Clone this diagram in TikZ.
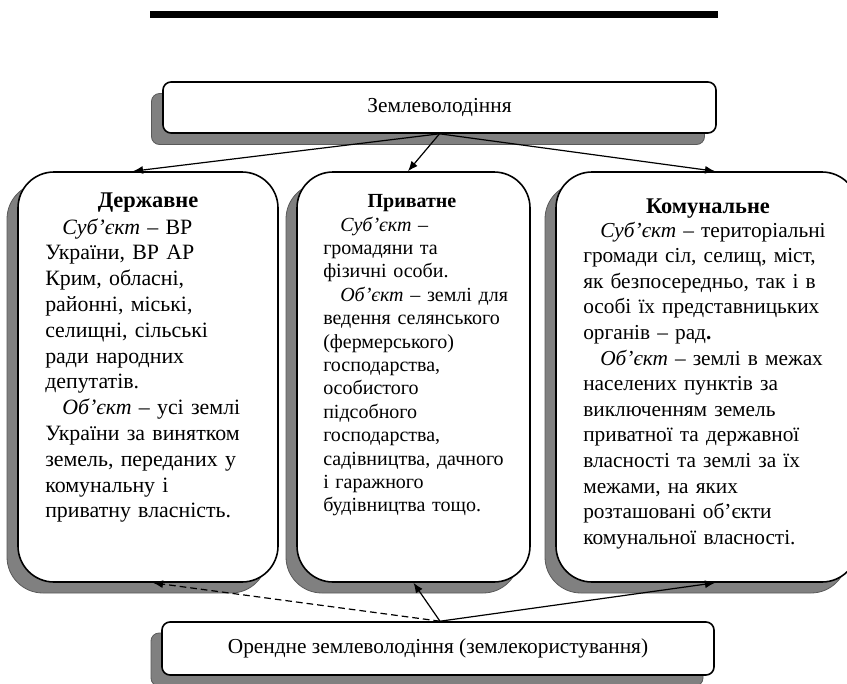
\documentclass[tikz,border=0pt]{standalone}
\usepackage{fontspec}
\setmainfont{Liberation Serif}
\usetikzlibrary{arrows.meta,calc}
\newcommand{\ind}{\hspace*{12.75pt}}
\begin{document}
\begin{tikzpicture}[x=0.75pt,y=-0.75pt,
  shadowbox/.style={fill=black!50, draw=black!65, line width=0.6pt},
  bigbox/.style={draw=black, fill=white, line width=1.2pt, rounded corners=27pt, inner sep=0pt},
  smallbox/.style={draw=black, fill=white, line width=1.2pt, rounded corners=6pt, inner sep=0pt},
  bigshadow/.style={shadowbox, rounded corners=27pt, inner sep=0pt},
  smallshadow/.style={shadowbox, rounded corners=6pt, inner sep=0pt},
  arr/.style={-{Latex[length=7.5pt,width=6pt]}, line width=0.9pt},
  bigtext/.style={font=\fontsize{16.4}{19.35}\selectfont, align=left, text width=#1, inner sep=0pt, anchor=base west},
  rtext/.style={font=\fontsize{16}{19.2}\selectfont, align=left, text width=#1, inner sep=0pt, anchor=base west},
  midtext/.style={font=\fontsize{15}{17.55}\selectfont, align=left, text width=#1, inner sep=0pt, anchor=base west},
  titletext/.style={font=\bfseries\fontsize{16.8}{19}\selectfont, inner sep=0pt, anchor=base},
]
\useasboundingbox (0,0) rectangle (847,683);
\clip (0,0) rectangle (847,683);
\fill (150,11) rectangle (718,18);

% shadows
\node[smallshadow, minimum width=414.75pt, minimum height=38.25pt] (topsh) at (428,119) {};
\node[bigshadow, minimum width=195pt, minimum height=307.5pt] (lsh) at (137,388) {};
\node[bigshadow, minimum width=174.75pt, minimum height=307.5pt] (msh) at (402.5,388) {};
\node[bigshadow, minimum width=226.5pt, minimum height=307.5pt] (rsh) at (696,388) {};
\node[smallshadow, minimum width=414pt, minimum height=39.75pt] (botsh) at (427,659.5) {};

% boxes
\node[smallbox, minimum width=414.75pt, minimum height=38.25pt, font=\fontsize{16}{19}\selectfont] (top) at (439.5,107.5) {Землеволодіння};
\node[bigbox, minimum width=195pt, minimum height=307.5pt] (left) at (148,377) {};
\node[bigbox, minimum width=174.75pt, minimum height=307.5pt] (mid) at (413.5,377) {};
\node[bigbox, minimum width=226.5pt, minimum height=307.5pt] (right) at (707,377) {};
\node[smallbox, minimum width=414pt, minimum height=39.75pt, font=\fontsize{16}{19}\selectfont] (bot) at (438,648.5) {Орендне землеволодіння (землекористування)};

% titles
\node[titletext] (lt) at (148,207) {Державне};
\node[titletext, font=\bfseries\fontsize{15}{18}\selectfont] (mt) at (412,207) {Приватне};
\node[titletext] (rt) at (708,213) {Комунальне};

% bodies
\node[bigtext=230pt] (lb) at (45,234) {\ind\textit{Суб’єкт} – ВР\\
України, ВР АР\\
Крим, обласні,\\
районні, міські,\\
селищні, сільські\\
ради народних\\
депутатів.\\
\ind\textit{Об’єкт} – усі землі\\
України за винятком\\
земель, переданих у\\
комунальну і\\
приватну власність.};

\node[midtext=200pt] (mb) at (323,231) {\ind\textit{Суб’єкт} –\\
громадяни та\\
фізичні особи.\\
\ind\textit{Об’єкт} – землі для\\
ведення селянського\\
(фермерського)\\
господарства,\\
особистого\\
підсобного\\
господарства,\\
садівництва, дачного\\
і гаражного\\
будівництва тощо.};

\node[rtext=240pt] (rb) at (583,237) {\ind\textit{Суб'єкт} – територіальні\\
громади сіл, селищ, міст,\\
як безпосередньо, так і в\\
особі їх представницьких\\
органів – рад\textbf{.}\\
\ind\textit{Об’єкт} – землі в межах\\
населених пунктів за\\
виключенням земель\\
приватної та державної\\
власності та землі за їх\\
межами, на яких\\
розташовані об’єкти\\
комунальної власності.};

% connectors
\draw[arr] (top.south) -- ($(left.north)+(-15,0)$);
\draw[arr] (top.south) -- ($(mid.north)+(-5.5,0)$);
\draw[arr] (top.south) -- ($(right.north)+(8,0)$);
\draw[arr, dashed, dash pattern=on 5pt off 3pt] ($(bot.north)+(2,0)$) -- ($(left.south)+(5,0)$);
\draw[arr] ($(bot.north)+(2,0)$) -- (mid.south);
\draw[arr] ($(bot.north)+(2,0)$) -- ($(right.south)+(8,0)$);
\end{tikzpicture}
\end{document}
